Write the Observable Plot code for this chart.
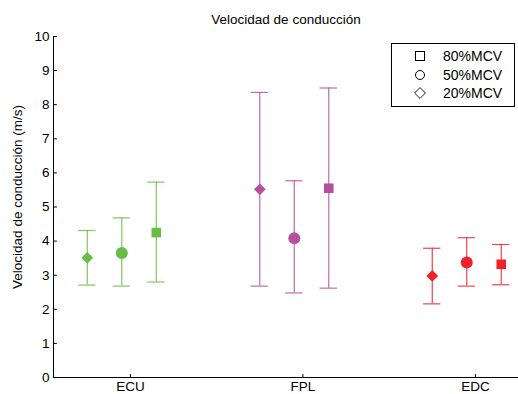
<!DOCTYPE html>
<html>
<head>
<meta charset="utf-8">
<script src="https://cdn.jsdelivr.net/npm/d3@7"></script>
<script src="https://cdn.jsdelivr.net/npm/@observablehq/plot@0.6"></script>
<style>
  html, body { margin: 0; padding: 0; background: #fff; }
  #wrap { position: relative; width: 518px; height: 394px; font-family: "Liberation Sans", Arial, sans-serif; }
  #legend { position: absolute; left: 391px; top: 43px; width: 122px; height: 62px; border: 1px solid #000; background: #fff; font-size: 14px; }
  .row { position: absolute; left: 0; height: 18px; line-height: 18px; }
  .sym { position: absolute; left: 23px; top: 4px; width: 8px; height: 8px; border: 1px solid #000; box-sizing: content-box; }
  .lab { position: absolute; left: 51px; top: 0; white-space: nowrap; }
</style>
</head>
<body>
<div id="wrap"></div>
<script>
const groups = ["ECU", "FPL", "EDC"];
const series = ["20%MCV", "50%MCV", "80%MCV"];
const colors = ["#68bd44", "#b3519f", "#ee2228"];
// per series: values for ECU, FPL, EDC
const mean20 = [3.51, 5.52, 2.98];
const low20  = [2.71, 2.68, 2.16];
const high20 = [4.31, 8.36, 3.79];
const mean50 = [3.65, 4.08, 3.37];
const low50  = [2.68, 2.48, 2.68];
const high50 = [4.68, 5.77, 4.10];
const mean80 = [4.25, 5.55, 3.32];
const low80  = [2.80, 2.62, 2.72];
const high80 = [5.73, 8.49, 3.90];
const yTicks = [0,1,2,3,4,5,6,7,8,9,10];

const offsets = [-0.25, -0.05, 0.15];
const symbols = ["diamond2", "circle", "square"];
const radii = [5.3, 6, 5.4];
const means = [mean20, mean50, mean80];
const lows = [low20, low50, low80];
const highs = [high20, high50, high80];

const rows = [];
series.forEach((s, si) => {
  groups.forEach((g, gi) => {
    rows.push({series: s, si, group: g, gi, x: gi + 1 + offsets[si], mean: means[si][gi], low: lows[si][gi], high: highs[si][gi], color: colors[gi]});
  });
});

const capHalf = 0.05;
const font = "Liberation Sans, Arial, sans-serif";

const chart = Plot.plot({
  width: 518,
  height: 394,
  marginLeft: 53,
  marginRight: 0,
  marginTop: 36,
  marginBottom: 17,
  style: {fontFamily: font, fontSize: "13.5px", background: "#fff", color: "#000"},
  x: {domain: [0.554, 3.25], axis: null},
  y: {domain: [0, 10], axis: null},
  marks: [
    // error bars
    Plot.ruleX(rows, {x: "x", y1: "low", y2: "high", stroke: "color", strokeWidth: 1.2, strokeOpacity: 0.85}),
    Plot.ruleY(rows, {y: "low", x1: d => d.x - capHalf, x2: d => d.x + capHalf, stroke: "color", strokeWidth: 1.2, strokeOpacity: 0.85}),
    Plot.ruleY(rows, {y: "high", x1: d => d.x - capHalf, x2: d => d.x + capHalf, stroke: "color", strokeWidth: 1.2, strokeOpacity: 0.85}),
    // markers
    ...series.map((s, si) => Plot.dot(rows.filter(d => d.si === si), {x: "x", y: "mean", fill: "color", stroke: "none", symbol: symbols[si], r: radii[si]})),
    // axes lines
    Plot.ruleX([0.554], {y1: 0, y2: 10, stroke: "#000", strokeWidth: 1}),
    Plot.ruleY([0], {stroke: "#000", strokeWidth: 1}),
    // inward ticks
    Plot.vector(yTicks, {y: d => d, frameAnchor: "left", rotate: 90, length: 3, anchor: "start", stroke: "#000", strokeWidth: 1,
      shape: {draw(ctx, l) { ctx.moveTo(0, 0); ctx.lineTo(0, -l); }}}),
    Plot.vector(groups.map((g, i) => i + 1), {x: d => d, frameAnchor: "bottom", rotate: 0, length: 3, anchor: "start", stroke: "#000", strokeWidth: 1,
      shape: {draw(ctx, l) { ctx.moveTo(0, 0); ctx.lineTo(0, -l); }}}),
    // tick labels
    Plot.text(yTicks, {y: d => d, text: d => String(d), frameAnchor: "left", textAnchor: "end", dx: -4, fill: "#000"}),
    Plot.text(groups, {x: (d, i) => i + 1, text: d => d, frameAnchor: "bottom", dy: 13, fill: "#000"}),
    // titles
    Plot.text(["Velocidad de conducción"], {frameAnchor: "top", dy: -22, fill: "#000"}),
    Plot.text(["Velocidad de conducción (m/s)"], {frameAnchor: "left", textAnchor: "middle", rotate: -90, dx: -36, dy: -10, fill: "#000"})
  ]
});

const wrap = document.getElementById("wrap");
wrap.appendChild(chart);

// legend (order as in reference: 80, 50, 20)
const legend = document.createElement("div");
legend.id = "legend";
const legendOrder = [2, 1, 0];
legendOrder.forEach((si, k) => {
  const row = document.createElement("div");
  row.className = "row";
  row.style.top = (3 + k * 18.5) + "px";
  row.style.width = "100%";
  const sym = document.createElement("div");
  sym.className = "sym";
  if (symbols[si] === "circle") { sym.style.borderRadius = "50%"; }
  if (symbols[si] === "diamond2") { sym.style.transform = "rotate(45deg) scale(0.85)"; }
  const lab = document.createElement("div");
  lab.className = "lab";
  lab.textContent = series[si];
  row.appendChild(sym);
  row.appendChild(lab);
  legend.appendChild(row);
});
wrap.appendChild(legend);
</script>
</body>
</html>
